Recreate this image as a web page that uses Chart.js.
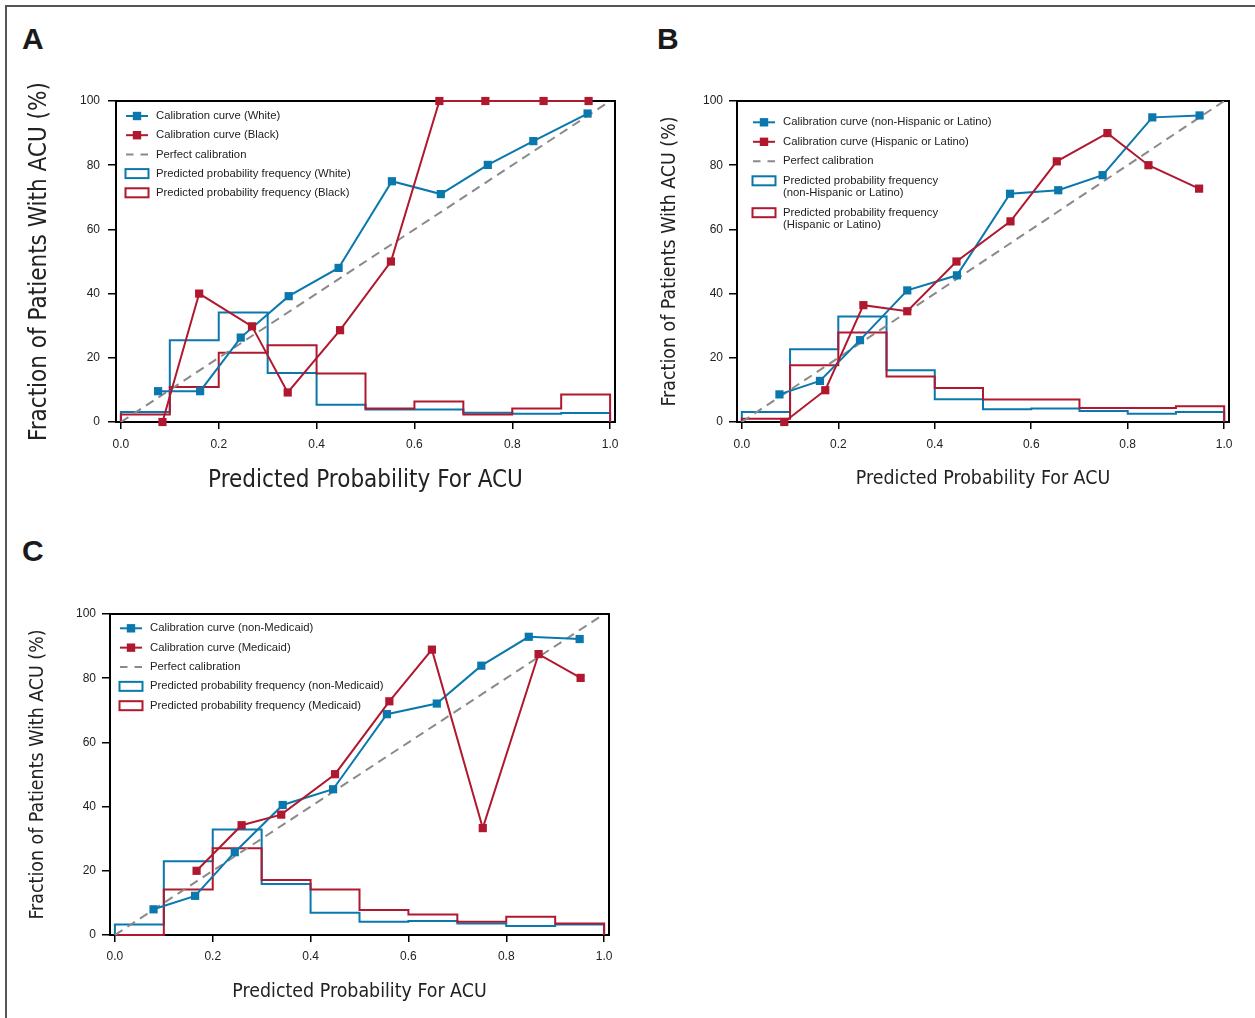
<!DOCTYPE html>
<html>
<head>
<meta charset="utf-8">
<title>Calibration curves</title>
<script src="https://cdn.jsdelivr.net/npm/chart.js@4.4.1/dist/chart.umd.min.js"></script>
<style>
    html, body { margin: 0; padding: 0; background: #fff; overflow: hidden; }
    body { width: 1255px; height: 1018px; position: relative; }
    .frame { position: absolute; left: 5px; top: 5px; width: 1400px; height: 1200px;
             border-left: 2px solid #555; border-top: 2px solid #555; }
    .panel-letter { position: absolute; font: bold 30px 'Liberation Sans', Arial, sans-serif;
                    line-height: 30px; color: #1a1a1a; }
    canvas { position: absolute; }
</style>
</head>
<body>
<div class="frame"></div>
<div class="panel-letter" style="left:22px;top:24px">A</div>
<div class="panel-letter" style="left:657px;top:24px">B</div>
<div class="panel-letter" style="left:22px;top:536px">C</div>
<canvas id="chart-a" width="640" height="520" style="left:0;top:0"></canvas>
<canvas id="chart-b" width="615" height="520" style="left:640px;top:0"></canvas>
<canvas id="chart-c" width="640" height="498" style="left:0;top:520px"></canvas>
<script>
(function() {
    'use strict';

    // Shared axes
    const binEdges = [0, 0.1, 0.2, 0.3, 0.4, 0.5, 0.6, 0.7, 0.8, 0.9, 1.0];
    const xTicks = [0, 0.2, 0.4, 0.6, 0.8, 1.0];
    const yTicks = [0, 20, 40, 60, 80, 100];
    const perfectX = [0, 1];
    const perfectY = [0, 100];

    const xTitle = 'Predicted Probability For ACU';
    const yTitle = 'Fraction of Patients With ACU (%)';

    // Panel A - race
    const aWhiteX = [0.076, 0.162, 0.245, 0.343, 0.445, 0.554, 0.654, 0.750, 0.843, 0.954];
    const aWhiteY = [9.6, 9.6, 26.3, 39.2, 48.0, 75.0, 71.0, 80.1, 87.5, 96.1];
    const aBlackX = [0.085, 0.160, 0.268, 0.341, 0.448, 0.552, 0.651, 0.745, 0.864, 0.956];
    const aBlackY = [0, 40.0, 29.8, 9.2, 28.6, 50.0, 100, 100, 100, 100];
    const aWhiteFreq = [3.1, 25.5, 34.1, 15.3, 5.4, 3.9, 3.9, 2.9, 2.6, 2.8];
    const aBlackFreq = [2.3, 10.9, 21.6, 23.9, 15.1, 4.2, 6.4, 2.3, 4.2, 8.6];
    const aLabels = [
        ['Calibration curve (White)'],
        ['Calibration curve (Black)'],
        ['Perfect calibration'],
        ['Predicted probability frequency (White)'],
        ['Predicted probability frequency (Black)']
    ];

    // Panel B - ethnicity
    const bNonHispX = [0.078, 0.162, 0.245, 0.343, 0.446, 0.556, 0.656, 0.748, 0.851, 0.949];
    const bNonHispY = [8.6, 12.8, 25.5, 41.0, 45.7, 71.1, 72.2, 76.9, 94.9, 95.5];
    const bHispX = [0.088, 0.173, 0.252, 0.343, 0.445, 0.557, 0.653, 0.758, 0.843, 0.948];
    const bHispY = [0, 9.9, 36.4, 34.5, 50.0, 62.5, 81.2, 90.0, 80.0, 72.7];
    const bNonHispFreq = [3.1, 22.7, 32.9, 16.1, 7.1, 4.0, 4.2, 3.4, 2.6, 3.1];
    const bHispFreq = [1.0, 17.7, 27.9, 14.2, 10.6, 7.0, 7.0, 4.4, 4.4, 4.9];
    const bLabels = [
        ['Calibration curve (non-Hispanic or Latino)'],
        ['Calibration curve (Hispanic or Latino)'],
        ['Perfect calibration'],
        ['Predicted probability frequency', '(non-Hispanic or Latino)'],
        ['Predicted probability frequency', '(Hispanic or Latino)']
    ];

    // Panel C - insurance
    const cNonMedX = [0.079, 0.164, 0.245, 0.343, 0.446, 0.556, 0.658, 0.749, 0.846, 0.950];
    const cNonMedY = [8.0, 12.2, 25.8, 40.5, 45.4, 68.8, 72.1, 83.9, 92.9, 92.2];
    const cMedX = [0.167, 0.259, 0.340, 0.450, 0.561, 0.648, 0.752, 0.866, 0.952];
    const cMedY = [20.0, 34.2, 37.5, 50.1, 72.8, 88.9, 33.3, 87.5, 80.1];
    const cNonMedFreq = [3.3, 23.0, 32.9, 15.9, 6.9, 4.1, 4.4, 3.6, 2.8, 3.3];
    const cMedFreq = [0, 14.2, 27.0, 17.1, 14.2, 7.8, 6.4, 4.1, 5.7, 3.6];
    const cLabels = [
        ['Calibration curve (non-Medicaid)'],
        ['Calibration curve (Medicaid)'],
        ['Perfect calibration'],
        ['Predicted probability frequency (non-Medicaid)'],
        ['Predicted probability frequency (Medicaid)']
    ];

    // Styling
    const BLUE = '#0a78ad';
    const RED = '#b0182f';
    const GREY = '#8a8a8a';
    const SANS = "'Liberation Sans', Arial, sans-serif";
    const NARROW = "'Liberation Sans Narrow', 'DejaVu Sans Condensed', sans-serif";

    function toPoints(xs, ys) {
        return xs.map((x, i) => ({ x: x, y: ys[i] }));
    }

    // Step outline of a histogram, like histtype='step'
    function stepPoints(heights) {
        const pts = [{ x: binEdges[0], y: 0 }];
        heights.forEach((h, i) => {
            pts.push({ x: binEdges[i], y: h });
            pts.push({ x: binEdges[i + 1], y: h });
        });
        pts.push({ x: binEdges[binEdges.length - 1], y: 0 });
        return pts;
    }

    function curveDataset(label, xs, ys, color) {
        return {
            label: label,
            data: toPoints(xs, ys),
            borderColor: color,
            backgroundColor: color,
            borderWidth: 2,
            pointStyle: 'rect',
            pointRadius: 5.8,
            pointBorderWidth: 0,
            pointBackgroundColor: color,
            tension: 0,
            clip: false
        };
    }

    function freqDataset(label, heights, color) {
        return {
            label: label,
            data: stepPoints(heights),
            borderColor: color,
            borderWidth: 2,
            pointRadius: 0,
            fill: false,
            tension: 0,
            clip: false
        };
    }

    // Black box round the plot area
    const framePlugin = {
        id: 'plotFrame',
        beforeDatasetsDraw(chart) {
            const { ctx, chartArea: a } = chart;
            ctx.save();
            ctx.strokeStyle = '#000';
            ctx.lineWidth = 2;
            ctx.strokeRect(a.left, a.top, a.right - a.left, a.bottom - a.top);
            ctx.restore();
        }
    };

    function drawIcon(ctx, kind, color, x, y) {
        ctx.strokeStyle = color;
        ctx.fillStyle = color;
        ctx.lineWidth = 2;
        if (kind === 'curve') {
            ctx.beginPath();
            ctx.moveTo(x, y);
            ctx.lineTo(x + 22, y);
            ctx.stroke();
            ctx.fillRect(x + 11 - 4.2, y - 4.2, 8.4, 8.4);
        } else if (kind === 'dash') {
            ctx.beginPath();
            ctx.moveTo(x, y);
            ctx.lineTo(x + 7.5, y);
            ctx.moveTo(x + 14.5, y);
            ctx.lineTo(x + 22, y);
            ctx.stroke();
        } else {
            ctx.strokeRect(x - 0.5, y - 4.5, 23, 9);
        }
    }

    // Legend inside the plot area, top left
    function makeLegend(labels, colors, pos) {
        const kinds = ['curve', 'curve', 'dash', 'box', 'box'];
        return {
            id: 'innerLegend',
            afterDraw(chart) {
                const { ctx, chartArea: a } = chart;
                ctx.save();
                ctx.font = '11.3px ' + SANS;
                ctx.textBaseline = 'middle';
                let y = a.top + pos.top;
                labels.forEach((lines, i) => {
                    drawIcon(ctx, kinds[i], colors[i], a.left + pos.iconLeft, y);
                    ctx.fillStyle = '#222';
                    lines.forEach((line, j) => {
                        ctx.fillText(line, a.left + pos.textLeft, y + j * pos.lineGap);
                    });
                    y += pos.rowGap + (lines.length - 1) * pos.lineGap;
                });
                ctx.restore();
            }
        };
    }

    function buildChart(canvasId, p) {
        const ctx = document.getElementById(canvasId).getContext('2d');
        const colors = [BLUE, RED, GREY, BLUE, RED];

        return new Chart(ctx, {
            type: 'line',
            data: {
                datasets: [
                    curveDataset(p.labels[1][0], p.redX, p.redY, RED),
                    curveDataset(p.labels[0][0], p.blueX, p.blueY, BLUE),
                    {
                        label: 'Perfect calibration',
                        data: toPoints(perfectX, perfectY),
                        borderColor: GREY,
                        borderWidth: 2,
                        borderDash: [9, 6],
                        pointRadius: 0
                    },
                    freqDataset(p.labels[4].join(' '), p.redFreq, RED),
                    freqDataset(p.labels[3].join(' '), p.blueFreq, BLUE)
                ]
            },
            options: {
                responsive: false,
                animation: false,
                layout: { padding: p.padding },
                plugins: {
                    legend: { display: false },
                    tooltip: { enabled: false }
                },
                scales: {
                    x: {
                        type: 'linear',
                        min: -0.01,
                        max: 1.01,
                        afterBuildTicks: s => { s.ticks = xTicks.map(v => ({ value: v })); },
                        afterFit: s => { s.height = p.xAxisHeight; },
                        border: { display: false },
                        grid: { drawOnChartArea: false, tickLength: 7, color: '#000', lineWidth: 1.5 },
                        ticks: {
                            padding: p.xTickPad,
                            color: '#222',
                            autoSkip: false,
                            maxRotation: 0,
                            font: { size: 12, family: SANS },
                            callback: v => v.toFixed(1)
                        },
                        title: {
                            display: true,
                            text: xTitle,
                            color: '#222',
                            font: { size: p.titleSize, family: NARROW },
                            padding: { top: 0, bottom: p.xTitlePad }
                        }
                    },
                    y: {
                        type: 'linear',
                        min: 0,
                        max: 100,
                        afterBuildTicks: s => { s.ticks = yTicks.map(v => ({ value: v })); },
                        afterFit: s => { s.width = p.yAxisWidth; },
                        border: { display: false },
                        grid: { drawOnChartArea: false, tickLength: 8, color: '#000', lineWidth: 1.5 },
                        ticks: {
                            padding: p.yTickPad,
                            color: '#222',
                            font: { size: 12, family: SANS },
                            callback: v => String(v)
                        },
                        title: {
                            display: true,
                            text: yTitle,
                            color: '#222',
                            font: { size: p.titleSize, family: NARROW },
                            padding: { top: p.yTitlePad, bottom: 0 }
                        }
                    }
                }
            },
            plugins: [framePlugin, makeLegend(p.labels, colors, p.legend)]
        });
    }

    buildChart('chart-a', {
        blueX: aWhiteX, blueY: aWhiteY, redX: aBlackX, redY: aBlackY,
        blueFreq: aWhiteFreq, redFreq: aBlackFreq, labels: aLabels,
        padding: { left: 0, top: 101, right: 25, bottom: 18 },
        yAxisWidth: 116, xAxisHeight: 80,
        titleSize: 24, xTitlePad: 6.6, yTitlePad: 25.6,
        xTickPad: 8, yTickPad: 8,
        legend: { iconLeft: 10, textLeft: 40, top: 15, rowGap: 19.2, lineGap: 12.3 }
    });

    buildChart('chart-b', {
        blueX: bNonHispX, blueY: bNonHispY, redX: bHispX, redY: bHispY,
        blueFreq: bNonHispFreq, redFreq: bHispFreq, labels: bLabels,
        padding: { left: 0, top: 101, right: 26, bottom: 18 },
        yAxisWidth: 97, xAxisHeight: 80,
        titleSize: 19.4, xTitlePad: 11.4, yTitlePad: 18.4,
        xTickPad: 8, yTickPad: 6,
        legend: { iconLeft: 16, textLeft: 46, top: 21.3, rowGap: 19.5, lineGap: 12.4 }
    });

    buildChart('chart-c', {
        blueX: cNonMedX, blueY: cNonMedY, redX: cMedX, redY: cMedY,
        blueFreq: cNonMedFreq, redFreq: cMedFreq, labels: cLabels,
        padding: { left: 0, top: 94, right: 31, bottom: 8 },
        yAxisWidth: 110, xAxisHeight: 75,
        titleSize: 19.4, xTitlePad: 6.4, yTitlePad: 26.4,
        xTickPad: 7, yTickPad: 6,
        legend: { iconLeft: 10, textLeft: 40, top: 14.3, rowGap: 19.35, lineGap: 12.4 }
    });

})();
</script>
</body>
</html>
